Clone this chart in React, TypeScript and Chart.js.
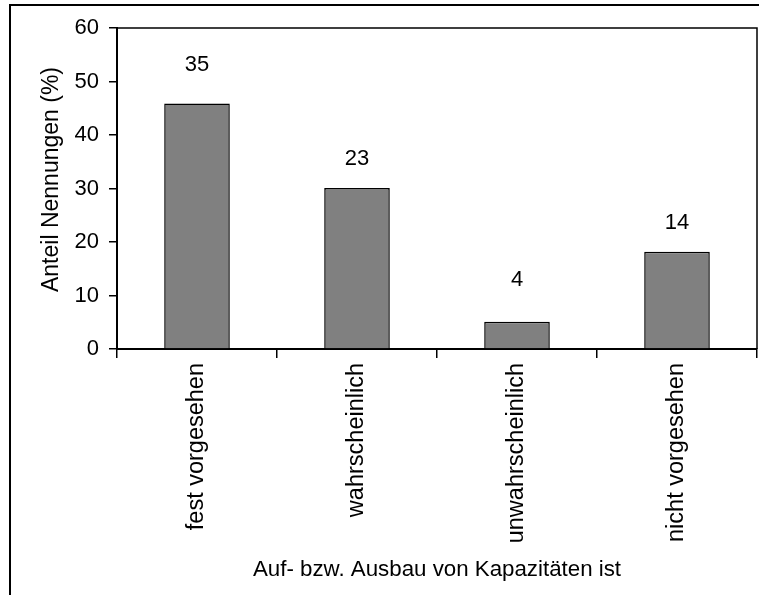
import React, { useEffect, useRef } from "react";
import { Chart, registerables } from "chart.js";

Chart.register(...registerables);

const categories = ["fest vorgesehen", "wahrscheinlich", "unwahrscheinlich", "nicht vorgesehen"];
const shares = [45.9, 30.1, 5.1, 18.2];
const counts = [35, 23, 4, 14];
const countLabelLevels = [53.1, 35.6, 12.9, 23.5];
const yTicks = [0, 10, 20, 30, 40, 50, 60];
const yTitle = "Anteil Nennungen (%)";

const FONT = "'Liberation Sans', Arial, sans-serif";

const framePlugin = {
  id: "frame",
  beforeDraw(chart: any) {
    const ctx = chart.ctx;
    ctx.save();
    ctx.fillStyle = "#ffffff";
    ctx.fillRect(0, 0, chart.width, chart.height);
    ctx.strokeStyle = "#000000";
    ctx.lineWidth = 2;
    ctx.strokeRect(10, 5, chart.width + 20, chart.height + 20);
    ctx.restore();
  },
  afterDraw(chart: any) {
    const ctx = chart.ctx;
    const a = chart.chartArea;
    ctx.save();
    ctx.strokeStyle = "#000000";
    ctx.lineWidth = 1.5;
    ctx.beginPath();
    ctx.moveTo(a.left, a.top);
    ctx.lineTo(a.right, a.top);
    ctx.lineTo(a.right, a.bottom);
    ctx.stroke();
    // y-axis title, centred slightly above the plot's middle as in the original
    ctx.font = `23px ${FONT}`;
    ctx.fillStyle = "#000000";
    ctx.textAlign = "center";
    ctx.textBaseline = "middle";
    ctx.translate(52, (a.top + a.bottom) / 2 - 9);
    ctx.rotate(-Math.PI / 2);
    ctx.fillText(yTitle, 0, 0);
    ctx.restore();
  },
};

const countLabelPlugin = {
  id: "countLabels",
  afterDatasetsDraw(chart: any) {
    const ctx = chart.ctx;
    const meta = chart.getDatasetMeta(1);
    ctx.save();
    ctx.font = `22px ${FONT}`;
    ctx.fillStyle = "#000000";
    ctx.textAlign = "center";
    ctx.textBaseline = "middle";
    meta.data.forEach((pt: any, i: number) => {
      ctx.fillText(String(counts[i]), pt.x, pt.y);
    });
    ctx.restore();
  },
};

export default function App() {
  const ref = useRef<HTMLCanvasElement | null>(null);

  useEffect(() => {
    document.body.style.margin = "0";
    const canvas = ref.current;
    if (!canvas) return;
    const chart = new Chart(canvas, {
      type: "bar",
      data: {
        labels: categories,
        datasets: [
          {
            type: "bar",
            data: shares,
            backgroundColor: "#808080",
            borderColor: "#000000",
            borderWidth: 1.5,
            categoryPercentage: 1,
            barPercentage: 0.41,
          },
          {
            type: "line",
            data: countLabelLevels,
            showLine: false,
            pointRadius: 0,
            pointHoverRadius: 0,
            borderColor: "transparent",
            backgroundColor: "transparent",
          },
        ],
      } as any,
      options: {
        animation: false,
        responsive: false,
        events: [],
        layout: { padding: { top: 28, right: 2, left: 0, bottom: 0 } },
        plugins: {
          legend: { display: false },
          tooltip: { enabled: false },
        },
        scales: {
          x: {
            offset: true,
            grid: {
              offset: true,
              drawOnChartArea: false,
              drawTicks: true,
              tickLength: 9,
              color: "#000000",
              lineWidth: 1.5,
            },
            border: { display: true, color: "#000000", width: 2 },
            ticks: {
              minRotation: 90,
              maxRotation: 90,
              padding: 5,
              color: "#000000",
              font: { family: FONT, size: 23.5 },
            },
            title: {
              display: true,
              text: "Auf- bzw. Ausbau von Kapazitäten ist",
              color: "#000000",
              font: { family: FONT, size: 22.3 },
              padding: { top: 0, bottom: 12 },
            },
            afterFit(scale: any) {
              scale.height = 246;
            },
          },
          y: {
            min: 0,
            max: 60,
            afterBuildTicks(scale: any) {
              scale.ticks = yTicks.map((v) => ({ value: v }));
            },
            grid: {
              drawOnChartArea: false,
              drawTicks: true,
              tickLength: 8,
              color: "#000000",
              lineWidth: 1.5,
            },
            border: { display: true, color: "#000000", width: 2 },
            ticks: {
              padding: 10,
              color: "#000000",
              font: { family: FONT, size: 22 },
            },
            title: { display: false },
            afterFit(scale: any) {
              scale.width = 117;
            },
          },
        },
      } as any,
      plugins: [framePlugin, countLabelPlugin],
    });
    return () => chart.destroy();
  }, []);

  return (
    <div style={{ position: "absolute", left: 0, top: 0, width: 759, height: 595 }}>
      <canvas ref={ref} width={759} height={595} style={{ display: "block", width: 759, height: 595 }} />
    </div>
  );
}
